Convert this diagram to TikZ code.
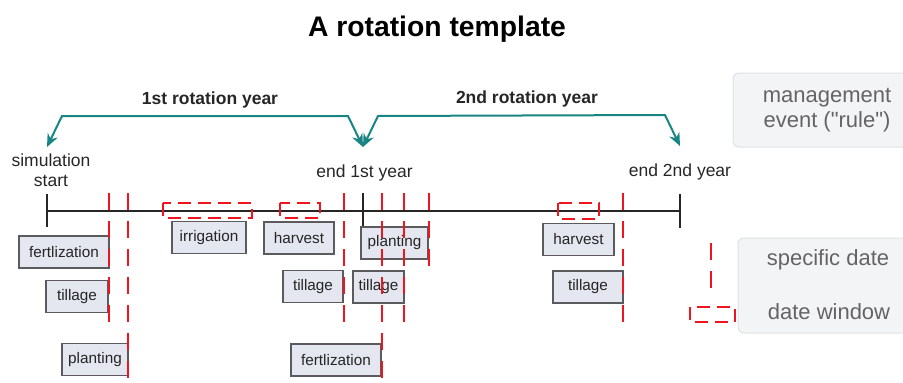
\documentclass[tikz,border=0pt]{standalone}
\usepackage{fontspec}
\setmainfont{Liberation Sans}
\newfontfamily\lgfont{Liberation Sans}
\usetikzlibrary{arrows.meta}
\definecolor{teal1}{RGB}{24,132,132}
\definecolor{red1}{RGB}{240,20,30}
\definecolor{evfill}{RGB}{228,230,240}
\definecolor{evdraw}{RGB}{90,90,95}
\definecolor{lgfill}{RGB}{243,244,246}
\definecolor{lgdraw}{RGB}{222,225,228}
\definecolor{lgtext}{RGB}{100,100,100}
\tikzset{
  evt/.style={draw=evdraw, line width=1.2pt, fill=evfill, inner sep=0pt, minimum height=32pt,
    font=\fontsize{15.3}{17}\selectfont, text=black!85},
  sdate/.style={draw=red1, line width=2.4pt, dash pattern=on 17pt off 11pt},
  dwin/.style={draw=red1, line width=2.4pt, dash pattern=on 13pt off 7pt},
  tline/.style={draw=black!85, line width=2pt},
  brack/.style={draw=teal1, line width=2pt, {Stealth[length=13pt,width=11pt]}-{Stealth[length=13pt,width=11pt]}},
  lbl/.style={font=\fontsize{17.5}{20}\selectfont, text=black!85, align=center},
  ylbl/.style={font=\bfseries\fontsize{17.5}{20}\selectfont, text=black!85},
  lgbox/.style={draw=lgdraw, line width=1pt, fill=lgfill, rounded corners=6pt},
  lgtxt/.style={font=\lgfont\fontsize{22}{26}\selectfont, text=lgtext, align=center}
}
\begin{document}
\begin{tikzpicture}[x=1pt,y=-1pt]
\useasboundingbox (0,0) rectangle (903,383);
\begin{scope}
\clip (0,0) rectangle (903,383);
% title
\node[font=\bfseries\fontsize{28.3}{32}\selectfont] (title) at (437,29) {A rotation template};
% legend boxes
\draw[lgbox] (733,73) rectangle (915,147);
\node[lgtxt] (lg1) at (827,110) {management\\[-1pt]event ("rule")};
\draw[lgbox] (738,238) rectangle (915,333);
\node[lgtxt] (lg2) at (828,260) {specific date};
\node[lgtxt] (lg3) at (829,312) {date window};
% timeline
\coordinate (t0) at (47,211);
\coordinate (t1) at (363,211);
\coordinate (t2) at (680,211);
\draw[tline] (t0) -- (t2);
\draw[tline] (47,194) -- (47,227);
\draw[tline] (363,193) -- (363,227);
\draw[tline] (680,194) -- (680,228);
% labels
\node[lbl] (sim) at (51,170) {simulation\\start};
\node[lbl] (e1) at (364.5,173) {end 1st year};
\node[lbl] (e2) at (680,172) {end 2nd year};
\node[ylbl] (y1) at (210,100) {1st rotation year};
\node[ylbl] (y2) at (527,99) {2nd rotation year};
% brackets
\coordinate (a0) at (47,147);
\coordinate (a1) at (363,147);
\coordinate (a2) at (680,146);
\draw[brack] (a0) -- (62,116) -- (348,116) -- (a1);
\draw[brack] (a1) -- (378,116) -- (665,115) -- (a2);
% events
\node[evt, minimum width=90pt] (f1) at (64,252) {fertlization};
\node[evt, minimum width=62pt] (t1b) at (77,296.5) {tillage};
\node[evt, minimum width=66pt] (p1) at (95,359.5) {planting};
\node[evt, minimum width=74pt] (irr) at (209,237.5) {irrigation};
\node[evt, minimum width=70pt] (h1) at (299,238) {harvest};
\node[evt, minimum width=60pt] (t2b) at (313,286.5) {tillage};
\node[evt, minimum width=90pt] (f2) at (336,360) {fertlization};
\node[evt, minimum width=67pt] (p2) at (394.5,243) {planting};
\node[evt, minimum width=51pt] (t3b) at (378.5,287) {tillage};
\node[evt, minimum width=71pt] (h2) at (578.5,239.5) {harvest};
\node[evt, minimum width=70pt] (t4b) at (588,287) {tillage};
% specific dates
\draw[sdate] (109,193) -- (109,328);
\draw[sdate] (128,193) -- (128,383);
\draw[sdate] (344,193) -- (344,328);
\draw[sdate] (382,193) -- (382,383);
\draw[sdate] (404,193) -- (404,328);
\draw[sdate] (429,193) -- (429,270);
\draw[sdate] (623,193) -- (623,327);
% date windows
\draw[dwin] (163,203) rectangle (252,218);
\draw[dwin] (280,203) rectangle (320,218);
\draw[dwin] (558,203) rectangle (599,219);
% legend symbols
\draw[sdate] (711,243) -- (711,293);
\draw[dwin] (690,307) rectangle (735,322);
\end{scope}
\end{tikzpicture}
\end{document}
